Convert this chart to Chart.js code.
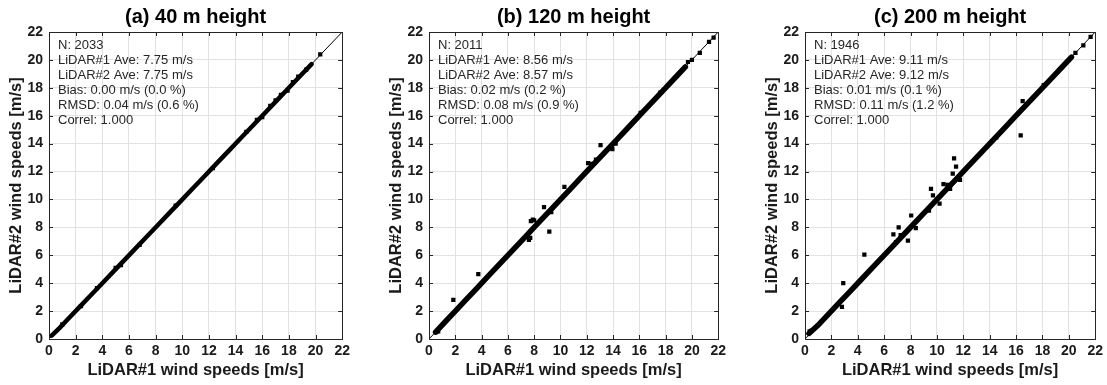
<!DOCTYPE html>
<html>
<head>
<meta charset="utf-8">
<script src="https://cdn.jsdelivr.net/npm/chart.js@4.4.1/dist/chart.umd.min.js"></script>
<style>
  body { margin: 0; background: #fff; overflow: hidden; }
  #wrap { position: relative; width: 1107px; height: 385px; background: #fff; overflow: hidden; }
  .panel { position: absolute; top: 0; }
</style>
</head>
<body>
<div id="wrap">
  <div class="panel" style="left:0px"><canvas id="chartA" width="354" height="385"></canvas></div>
  <div class="panel" style="left:380px"><canvas id="chartB" width="350" height="385"></canvas></div>
  <div class="panel" style="left:756px"><canvas id="chartC" width="351" height="385"></canvas></div>
</div>
<script>
// axis ticks (m/s)
const tickValues = [0, 2, 4, 6, 8, 10, 12, 14, 16, 18, 20, 22];

// (a) 40 m
const bandAx = [0.2, 0.8, 1.5, 2.3, 3.1, 4.0, 4.9, 5.6, 6.3, 7.2, 8.1, 9.0, 9.9, 10.8, 11.7, 12.6, 13.5, 14.4, 15.3, 16.2, 17.1, 18.0, 18.9, 19.7];
const bandAy = [0.25, 0.8, 1.5, 2.3, 3.1, 4.0, 4.9, 5.6, 6.3, 7.2, 8.1, 9.0, 9.9, 10.8, 11.7, 12.6, 13.5, 14.4, 15.3, 16.2, 17.1, 18.0, 18.9, 19.7];
const dotsAx = [1.0, 2.4, 3.6, 5.0, 5.4, 6.8, 9.5, 12.3, 14.8, 15.6, 16.0, 16.6, 17.0, 17.4, 17.9, 18.3, 18.7, 19.3, 20.35];
const dotsAy = [1.05, 2.35, 3.65, 5.1, 5.3, 6.75, 9.55, 12.25, 14.85, 15.7, 15.9, 16.7, 17.1, 17.5, 17.8, 18.4, 18.8, 19.3, 20.4];
const statsA = ['N: 2033', 'LiDAR#1 Ave: 7.75 m/s', 'LiDAR#2 Ave: 7.75 m/s', 'Bias: 0.00 m/s (0.0 %)', 'RMSD: 0.04 m/s (0.6 %)', 'Correl: 1.000'];

// (b) 120 m
const bandBx = [0.5, 1.2, 2.0, 2.8, 3.6, 4.5, 5.4, 6.3, 7.2, 8.1, 9.0, 9.9, 10.8, 11.7, 12.6, 13.5, 14.4, 15.3, 16.2, 17.1, 18.0, 18.9, 19.5];
const bandBy = [0.5, 1.2, 2.0, 2.8, 3.6, 4.5, 5.4, 6.3, 7.2, 8.1, 9.0, 9.9, 10.8, 11.7, 12.6, 13.5, 14.4, 15.3, 16.2, 17.1, 18.0, 18.9, 19.5];
const dotsBx = [0.55, 0.7, 1.85, 3.75, 7.6, 7.7, 7.75, 7.9, 8.0, 8.75, 9.15, 9.3, 10.3, 12.1, 12.4, 12.7, 13.05, 13.95, 14.2, 16.1, 17.6, 19.7, 20.0, 20.6, 21.3, 21.65];
const dotsBy = [0.5, 0.55, 2.8, 4.65, 7.1, 7.25, 8.45, 8.55, 8.5, 9.45, 7.7, 9.1, 10.9, 12.6, 12.55, 12.85, 13.9, 13.6, 14.0, 16.2, 17.65, 19.85, 20.0, 20.5, 21.3, 21.6];
const statsB = ['N: 2011', 'LiDAR#1 Ave: 8.56 m/s', 'LiDAR#2 Ave: 8.57 m/s', 'Bias: 0.02 m/s (0.2 %)', 'RMSD: 0.08 m/s (0.9 %)', 'Correl: 1.000'];

// (c) 200 m
const bandCx = [0.3, 1.0, 1.8, 2.6, 3.4, 4.3, 5.2, 6.1, 7.0, 7.9, 8.8, 9.7, 10.6, 11.5, 12.4, 13.3, 14.2, 15.1, 16.0, 16.9, 17.8, 18.7, 19.6, 20.2];
const bandCy = [0.4, 1.0, 1.8, 2.6, 3.4, 4.3, 5.2, 6.1, 7.0, 7.9, 8.8, 9.7, 10.6, 11.5, 12.4, 13.3, 14.2, 15.1, 16.0, 16.9, 17.8, 18.7, 19.6, 20.2];
const dotsCx = [0.35, 0.5, 2.8, 2.9, 4.5, 6.7, 6.9, 7.1, 7.25, 7.8, 8.05, 8.4, 9.4, 9.55, 9.7, 10.2, 10.5, 10.8, 11.0, 11.2, 11.3, 11.45, 11.75, 14.5, 16.35, 16.5, 18.1, 20.5, 21.1, 21.65];
const dotsCy = [0.55, 0.6, 2.3, 4.0, 6.05, 7.5, 6.95, 8.0, 7.45, 7.05, 8.85, 7.95, 9.2, 10.75, 10.3, 9.7, 11.1, 11.05, 10.75, 11.85, 12.95, 12.35, 11.4, 14.45, 14.6, 17.05, 18.2, 20.5, 21.05, 21.65];
const statsC = ['N: 1946', 'LiDAR#1 Ave: 9.11 m/s', 'LiDAR#2 Ave: 9.12 m/s', 'Bias: 0.01 m/s (0.1 %)', 'RMSD: 0.11 m/s (1.2 %)', 'Correl: 1.000'];

const FONT = '"Liberation Sans", Arial, sans-serif';
const INK = '#1a1a1a';

function pts(xs, ys) {
    return xs.map((x, i) => ({ x: x, y: ys[i] }));
}

// title over the axes, box, inward ticks and the stats text
const framePlugin = {
    id: 'frame',
    afterDraw(chart) {
        const ctx = chart.ctx;
        const a = chart.chartArea;
        const sx = chart.scales.x, sy = chart.scales.y;
        const opts = chart.options.plugins.frame;
        ctx.save();
        ctx.strokeStyle = '#262626';
        ctx.lineWidth = 1;
        ctx.beginPath();
        tickValues.forEach(v => {
            const px = Math.round(sx.getPixelForValue(v)) + 0.5;
            const py = Math.round(sy.getPixelForValue(v)) + 0.5;
            ctx.moveTo(px, a.bottom); ctx.lineTo(px, a.bottom - 4);
            ctx.moveTo(px, a.top); ctx.lineTo(px, a.top + 4);
            ctx.moveTo(a.left, py); ctx.lineTo(a.left + 4, py);
            ctx.moveTo(a.right, py); ctx.lineTo(a.right - 4, py);
        });
        ctx.stroke();
        ctx.strokeRect(Math.round(a.left) + 0.5, Math.round(a.top) + 0.5, Math.round(a.right - a.left), Math.round(a.bottom - a.top));

        ctx.fillStyle = '#000';
        ctx.font = 'bold 20px ' + FONT;
        ctx.textAlign = 'center';
        ctx.textBaseline = 'middle';
        ctx.fillText(opts.title, (a.left + a.right) / 2, 17);

        ctx.fillStyle = '#262626';
        ctx.font = '13px ' + FONT;
        ctx.textAlign = 'left';
        opts.lines.forEach((t, i) => ctx.fillText(t, a.left + 9, a.top + 13 + i * 15));
        ctx.restore();
    }
};

function makeChart(id, title, bx, by, dx, dy, stats, bandWidth) {
    return new Chart(document.getElementById(id), {
        type: 'scatter',
        data: {
            datasets: [
                {
                    data: [{ x: 0, y: 0 }, { x: 22, y: 22 }],
                    showLine: true,
                    borderColor: '#000',
                    borderWidth: 1,
                    pointRadius: 0,
                    order: 3
                },
                {
                    data: pts(bx, by),
                    showLine: true,
                    borderColor: '#000',
                    borderWidth: bandWidth,
                    borderCapStyle: 'round',
                    pointRadius: 0,
                    order: 2
                },
                {
                    data: pts(dx, dy),
                    pointStyle: 'rect',
                    pointRadius: 3,
                    backgroundColor: '#000',
                    borderWidth: 0,
                    order: 1
                }
            ]
        },
        options: {
            responsive: false,
            animation: false,
            layout: { padding: { left: 0, right: 10, top: 32, bottom: 0 } },
            plugins: {
                legend: { display: false },
                tooltip: { enabled: false },
                title: { display: false },
                frame: { title: title, lines: stats }
            },
            scales: {
                x: {
                    type: 'linear',
                    min: 0, max: 22,
                    afterBuildTicks: s => { s.ticks = tickValues.map(v => ({ value: v })); },
                    afterFit: s => { s.height = 46; },
                    ticks: { color: INK, padding: 4, maxRotation: 0, font: { family: FONT, size: 14, weight: 'bold' } },
                    grid: { color: '#e2e2e2', drawTicks: false },
                    border: { display: false },
                    title: {
                        display: true,
                        text: 'LiDAR#1 wind speeds [m/s]',
                        color: INK,
                        font: { family: FONT, size: 16.5, weight: 'bold' },
                        padding: { top: 0, bottom: 5 }
                    }
                },
                y: {
                    type: 'linear',
                    min: 0, max: 22,
                    afterBuildTicks: s => { s.ticks = tickValues.map(v => ({ value: v })); },
                    afterFit: s => { s.width = 49; },
                    ticks: { color: INK, padding: 6, font: { family: FONT, size: 14, weight: 'bold' } },
                    grid: { color: '#e2e2e2', drawTicks: false },
                    border: { display: false },
                    title: {
                        display: true,
                        text: 'LiDAR#2 wind speeds [m/s]',
                        color: INK,
                        font: { family: FONT, size: 16.5, weight: 'bold' },
                        padding: { top: 7, bottom: 0 }
                    }
                }
            }
        },
        plugins: [framePlugin]
    });
}

makeChart('chartA', '(a) 40 m height', bandAx, bandAy, dotsAx, dotsAy, statsA, 4.5);
makeChart('chartB', '(b) 120 m height', bandBx, bandBy, dotsBx, dotsBy, statsB, 5.5);
makeChart('chartC', '(c) 200 m height', bandCx, bandCy, dotsCx, dotsCy, statsC, 5.5);
</script>
</body>
</html>
